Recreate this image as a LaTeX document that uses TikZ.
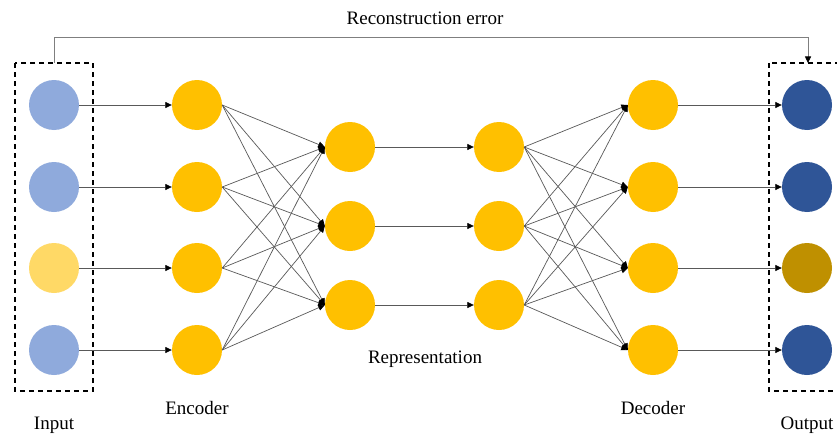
\documentclass[tikz,border=0pt]{standalone}
\usepackage{fontspec}
\setmainfont{Liberation Serif}
\usetikzlibrary{arrows.meta}
\definecolor{inblue}{HTML}{8FAADC}
\definecolor{inyellow}{HTML}{FFD966}
\definecolor{hidden}{HTML}{FFC000}
\definecolor{outblue}{HTML}{2F5597}
\definecolor{outolive}{HTML}{BF9000}
\definecolor{linegray}{HTML}{595959}
\definecolor{fbgray}{HTML}{7F7F7F}
\tikzset{
  tip/.style={-{Triangle[length=6.5pt,width=6pt,color=black,fill=black]}},
  neuron/.style={circle, minimum size=50pt, inner sep=0pt, draw=none},
  conn/.style={draw=linegray, line width=0.7pt, tip},
  groupbox/.style={draw=black, line width=1.2pt, dash pattern=on 5pt off 4pt},
  lbl/.style={font=\fontsize{19}{22}\selectfont, text=black, inner sep=0pt}
}
\begin{document}
\begin{tikzpicture}[x=1pt,y=-1pt]
\useasboundingbox (0,0) rectangle (837,436);
\fill[white] (0,0) rectangle (837,436);
% Input
\node[neuron, fill=inblue]   (i1) at (54,105) {};
\node[neuron, fill=inblue]   (i2) at (54,187) {};
\node[neuron, fill=inyellow] (i3) at (54,268) {};
\node[neuron, fill=inblue]   (i4) at (54,350) {};
% Encoder
\foreach \k/\y in {1/105,2/187,3/268,4/350}
  \node[neuron, fill=hidden] (e\k) at (197,\y) {};
% Representation
\foreach \k/\y in {1/147,2/226,3/305}{
  \node[neuron, fill=hidden] (a\k) at (350,\y) {};
  \node[neuron, fill=hidden] (b\k) at (499,\y) {};
}
% Decoder
\foreach \k/\y in {1/105,2/187,3/268,4/350}
  \node[neuron, fill=hidden] (d\k) at (653,\y) {};
% Output
\node[neuron, fill=outblue]  (o1) at (807,105) {};
\node[neuron, fill=outblue]  (o2) at (807,187) {};
\node[neuron, fill=outolive] (o3) at (807,268) {};
\node[neuron, fill=outblue]  (o4) at (807,350) {};
% Dashed boxes
\draw[groupbox] (15,63) rectangle (93,391);
\draw[groupbox] (769,63) rectangle (850,391);
\coordinate (inTop) at (54,63);
\coordinate (outTop) at (808,63);
% Connections
\foreach \k in {1,2,3,4}{
  \draw[conn] (i\k.east) -- (e\k.west);
  \draw[conn] (d\k.east) -- (o\k.west);
  \foreach \j in {1,2,3}{
    \draw[conn] (e\k.east) -- (a\j.west);
    \draw[conn] (b\j.east) -- (d\k.west);
  }
}
\foreach \j in {1,2,3}
  \draw[conn] (a\j.east) -- (b\j.west);
% Feedback
\draw[draw=fbgray, line width=0.8pt, tip]
  (inTop) -- (54,37) -- (808,37) -- (outTop);
% Labels
\node[lbl] (trec) at (425,18) {Reconstruction error};
\node[lbl] (tin) at (54,425) {Input};
\node[lbl] (tenc) at (197,408) {Encoder};
\node[lbl] (trep) at (425,359) {Representation};
\node[lbl] (tdec) at (653,408) {Decoder};
\node[lbl] (tout) at (807,425) {Output};
\end{tikzpicture}
\end{document}
